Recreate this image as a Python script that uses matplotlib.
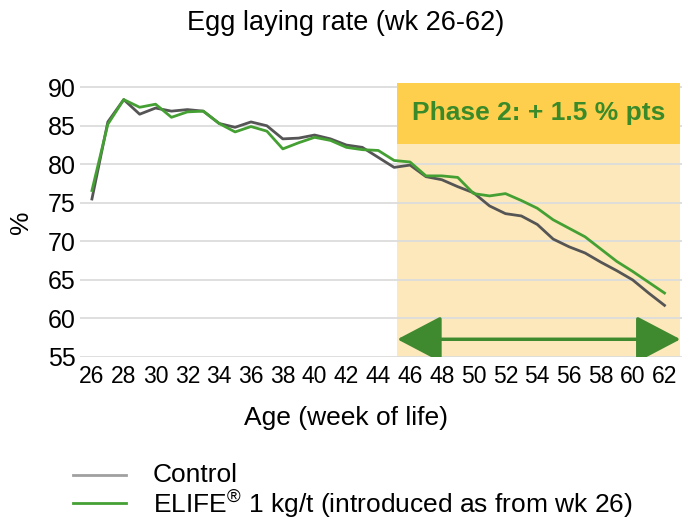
import matplotlib
matplotlib.use("Agg")
import matplotlib.pyplot as plt
from matplotlib.patches import Rectangle, FancyArrowPatch
from matplotlib.lines import Line2D

plt.rcParams['font.family'] = ['Liberation Sans', 'DejaVu Sans']
plt.rcParams['mathtext.fontset'] = 'custom'
plt.rcParams['mathtext.rm'] = 'Liberation Sans'
plt.rcParams['mathtext.default'] = 'regular'

weeks = list(range(26, 63))
control = [75.5, 85.5, 88.4, 86.5, 87.3, 86.9, 87.1, 86.9, 85.3, 84.8,
           85.5, 85.0, 83.3, 83.4, 83.8, 83.3, 82.5, 82.2, 80.9, 79.6,
           79.9, 78.4, 78.0, 77.1, 76.3, 74.6, 73.6, 73.3, 72.2, 70.3,
           69.3, 68.5, 67.3, 66.2, 65.0, 63.3, 61.7]
elife = [76.6, 85.2, 88.4, 87.4, 87.8, 86.1, 86.8, 86.9, 85.3, 84.2,
         84.9, 84.3, 82.0, 82.8, 83.5, 83.1, 82.2, 81.9, 81.8, 80.5,
         80.3, 78.5, 78.5, 78.3, 76.2, 75.9, 76.2, 75.3, 74.3, 72.8,
         71.7, 70.6, 69.0, 67.4, 66.1, 64.7, 63.3]
xticks = list(range(26, 63, 2))
yticks = list(range(55, 91, 5))

title = "Egg laying rate (wk 26-62)"
xlabel = "Age (week of life)"
ylabel = "%"
labels = ["Control", "ELIFE$^{\u00ae}$ 1 kg/t (introduced as from wk 26)"]
phase_text = "Phase 2: + 1.5 % pts"
phase_start, phase_end = 45.2, 63.0
banner_low, banner_high = 82.6, 90.6

c_control = "#555555"
c_elife = "#45a034"
c_arrow = "#3f8a2f"
c_banner = "#fdcf4d"
c_light = "#fde8bb"

fig = plt.figure(figsize=(6.96, 5.27), dpi=100)
ax = fig.add_axes([80/696, 1-357/527, (682-80)/696, (357-83)/527])
ax.set_xlim(25.25, 63.1)
ax.set_ylim(55, 90.55)

ax.add_patch(Rectangle((phase_start, 55), phase_end - phase_start, banner_low - 55,
                       facecolor=c_light, edgecolor='none', zorder=0))
ax.add_patch(Rectangle((phase_start, banner_low), phase_end - phase_start,
                       banner_high - banner_low, facecolor=c_banner,
                       edgecolor='none', zorder=3, clip_on=False))

for y in yticks:
    ax.axhline(y, color="#dcdcdc", lw=1.3, zorder=1)

ax.plot(weeks, control, color=c_control, lw=2.0, zorder=4)
ax.plot(weeks, elife, color=c_elife, lw=2.0, zorder=5)

ax.text((phase_start + phase_end) / 2, (banner_low + banner_high) / 2, phase_text,
        color="#3a8a2a", fontsize=19, fontweight='bold', ha='center', va='center',
        zorder=6)

arrow = FancyArrowPatch((phase_start, 57.3), (phase_end, 57.3),
                        arrowstyle='<|-|>,head_length=2.0,head_width=1.05',
                        mutation_scale=14, color=c_arrow, lw=2.5,
                        shrinkA=0, shrinkB=0, zorder=6)
ax.add_patch(arrow)

for s in ax.spines.values():
    s.set_visible(False)
ax.set_xticks(xticks)
ax.set_yticks(yticks)
ax.tick_params(length=0)
ax.tick_params(axis='x', pad=6, labelsize=16.5)
ax.tick_params(axis='y', pad=3, labelsize=18)

fig.text(346/696, 1-23/527, title, fontsize=19.5, ha='center', va='center')
fig.text(346/696, 1-418/527, xlabel, fontsize=19, ha='center', va='center')
fig.text(21/696, 1-222/527, ylabel, fontsize=19, ha='center', va='center', rotation=90)

fig.add_artist(Line2D([73/696, 126/696], [1-475/527, 1-475/527], color="#a0a0a0", lw=2.0))
fig.add_artist(Line2D([73/696, 126/696], [1-503/527, 1-503/527], color=c_elife, lw=2.0))
fig.text(153/696, 1-482/527, labels[0], fontsize=19, ha='left', va='baseline')
fig.text(153/696, 1-514/527, labels[1], fontsize=19, ha='left', va='baseline')

fig.savefig("out.png", dpi=100)
